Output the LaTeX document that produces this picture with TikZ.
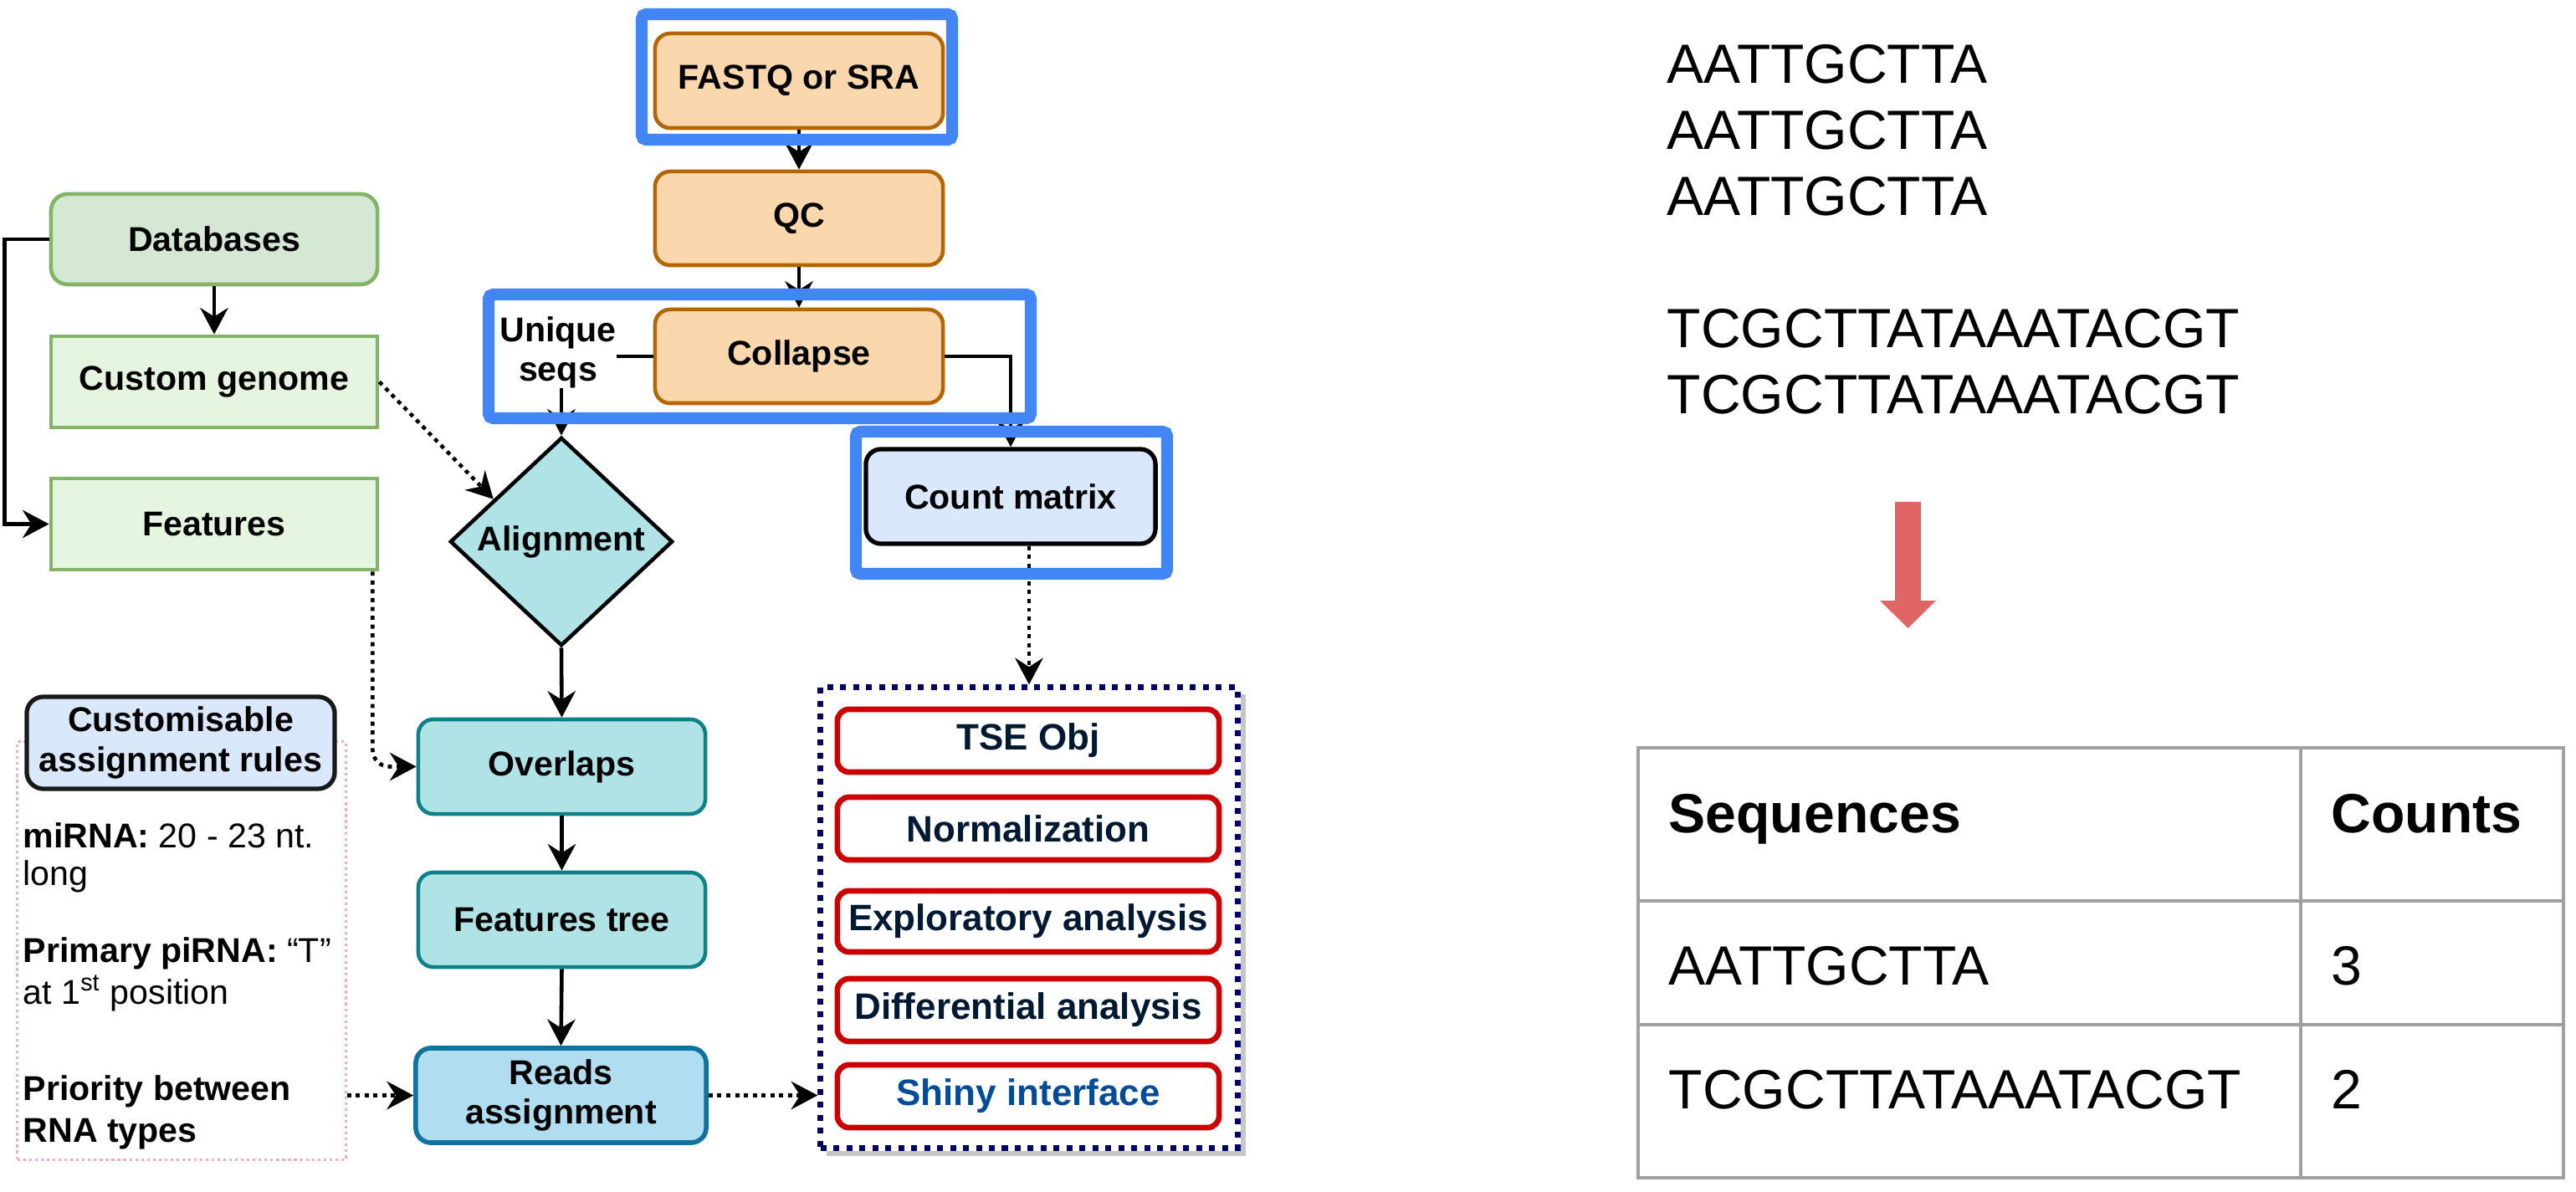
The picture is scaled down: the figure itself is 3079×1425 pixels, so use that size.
\documentclass[tikz,border=0pt]{standalone}
\usepackage{fontspec}
\setmainfont{Liberation Sans}
\usetikzlibrary{arrows.meta,shapes.geometric,calc}
\definecolor{orF}{HTML}{FAD7AC}
\definecolor{orS}{HTML}{B46504}
\definecolor{gnF}{HTML}{D5E8D4}
\definecolor{gnL}{HTML}{E6F5E0}
\definecolor{gnS}{HTML}{82B366}
\definecolor{tlF}{HTML}{B0E3E6}
\definecolor{tlS}{HTML}{0E8088}
\definecolor{rbF}{HTML}{B1DDF0}
\definecolor{rbS}{HTML}{10739E}
\definecolor{bxF}{HTML}{DAE8FC}
\definecolor{hiB}{HTML}{4285F4}
\definecolor{navyD}{HTML}{000066}
\definecolor{redS}{HTML}{CC0000}
\definecolor{txN}{HTML}{001933}
\definecolor{txB}{HTML}{004C99}
\definecolor{pinkD}{HTML}{F0B0C0}
\definecolor{tabG}{HTML}{A0A0A0}
\definecolor{arrR}{HTML}{E06666}
\newcommand\flowfont{\fontsize{11.7}{13.4}\selectfont\bfseries}
\newcommand\redfont{\fontsize{12.5}{14}\selectfont\bfseries}
\newcommand\pinkfont{\fontsize{11.7}{13.4}\selectfont}
\newcommand\seqfont{\fontsize{18.8}{22}\selectfont}
\begin{document}
\begin{tikzpicture}[x=0.01cm,y=-0.01cm,
  box/.style={font=\flowfont, align=center, inner sep=0pt, line width=1.3pt},
  obox/.style={box, draw=orS, fill=orF, rounded corners=0.18cm, minimum width=3.44cm, minimum height=1.12cm},
  gbox/.style={box, draw=gnS, fill=gnL, minimum width=3.9cm, minimum height=1.09cm},
  tbox/.style={box, draw=tlS, fill=tlF, rounded corners=0.18cm, minimum width=3.43cm, minimum height=1.13cm},
  rbox/.style={font=\redfont, text=txN, draw=redS, line width=1.9pt, fill=white, rounded corners=0.14cm, minimum width=4.56cm, minimum height=0.75cm, inner sep=0pt},
  arr/.style={line width=1.3pt, -{Stealth[length=9pt,width=9.5pt,inset=3pt]}},
  dotarr/.style={arr, dash pattern=on 1.4pt off 1.6pt},
  hilite/.style={draw=hiB, line width=4pt, rounded corners=1.5pt},
  seq/.style={font=\seqfont, anchor=base west, inner sep=0pt},
  pk/.style={font=\pinkfont, anchor=base west, inner sep=0pt}]
\useasboundingbox (0,0) rectangle (3079,1425);

% left column
\node[gbox, fill=gnF, rounded corners=0.2cm, minimum height=1.08cm] (db) at (256,286) {Databases};
\node[gbox] (cg) at (256,456.5) {Custom genome};
\node[gbox] (feat) at (256,626.5) {Features};

% main column
\node[obox, minimum height=1.13cm] (fq) at (955,96.5) {FASTQ or SRA};
\node[obox] (qc) at (955,261) {QC};
\node[obox] (col) at (955,426) {Collapse};
\node[box, draw=black, fill=tlF, shape=diamond, minimum width=2.66cm, minimum height=2.49cm] (al) at (671,647.5) {Alignment};
\node[tbox] (ov) at (671.5,916.5) {Overlaps};
\node[tbox] (ft) at (671.5,1099.5) {Features tree};
\node[tbox, draw=rbS, fill=rbF, line width=1.6pt, minimum width=3.47cm] (ra) at (670.5,1309.5) {Reads\\assignment};
\node[box, draw=black, fill=bxF, line width=1.5pt, rounded corners=0.18cm, minimum width=3.46cm, minimum height=1.13cm] (cm) at (1208,593.5) {Count matrix};

% analysis group
\draw[gray!45, line width=1.6pt] (988,1379) -- (1486,1379) -- (1486,830);
\node[draw=navyD, line width=2pt, dash pattern=on 2pt off 2.4pt, fill=white, minimum width=4.98cm, minimum height=5.5cm, inner sep=0pt] (dbx) at (1230,1097) {};
\node[rbox] (tse) at (1229,885.5) {TSE Obj};
\node[rbox] (nrm) at (1229,990.5) {Normalization};
\node[rbox, minimum height=0.73cm] (exa) at (1229,1101.5) {Exploratory analysis};
\node[rbox] (dfa) at (1229,1207.5) {Differential analysis};
\node[rbox, text=txB] (shi) at (1229,1310.5) {Shiny interface};

% rules
\node[draw=pinkD, line width=0.9pt, dash pattern=on 0.9pt off 1.1pt, minimum width=3.92cm, minimum height=4.99cm, inner sep=0pt] (pink) at (217,1136.5) {};
\node[box, draw=black!90, fill=bxF, line width=1.5pt, rounded corners=0.2cm, minimum width=3.68cm, minimum height=1.10cm] (cust) at (216,888) {Customisable\\assignment rules};
\node[pk] (t1) at (27,1013) {\textbf{miRNA:} 20 - 23 nt.};
\node[pk] (t2) at (27,1058) {long};
\node[pk] (t3) at (27,1150) {\textbf{Primary piRNA:} “T”};
\node[pk] (t4) at (27,1200) {at 1\textsuperscript{st} position};
\node[pk] (t5) at (27,1315) {\textbf{Priority between}};
\node[pk] (t6) at (27,1365) {\textbf{RNA types}};

% connectors
\draw[arr] (db.west) -- ++(-53,0) |- (feat.west);
\draw[arr] (db.south) -- (cg.north);
\draw[dotarr] (cg.east) -- ($(al.north)!0.6!(al.west)$);
\draw[dotarr, rounded corners=0.2cm] ([xshift=-0.08cm]feat.south east) |- (ov.west);
\draw[arr] (fq.south) -- (qc.north);
\draw[arr] (qc.south) -- (col.north);
\draw[arr] (col.west) -| (al.north);
\node[font=\flowfont, align=center, fill=white, inner sep=0pt] (us) at (667,421) {Unique\\seqs};
\draw[arr] (col.east) -| (cm.north);
\draw[arr] (al.south) -- (ov.north);
\draw[arr] (ov.south) -- (ft.north);
\draw[arr] (ft.south) -- (ra.north);
\draw[dotarr] (dbx.north |- cm.south) -- (dbx.north);
\draw[dotarr] (ra.west -| pink.east) -- (ra.west);
\draw[dotarr] (ra.east) -- (ra.east -| dbx.west);

% highlights
\draw[hilite] (767,17) rectangle (1138,167);
\draw[hilite] (584,352) rectangle (1232,500);
\draw[hilite] (1023,516) rectangle (1395,686);

% right side: reads
\node[seq] (a1) at (1992,99.5) {AATTGCTTA};
\node[seq] (a2) at (1992,178.6) {AATTGCTTA};
\node[seq] (a3) at (1992,257.7) {AATTGCTTA};
\node[seq] (b1) at (1992,415.8) {TCGCTTATAAATACGT};
\node[seq] (b2) at (1992,494.9) {TCGCTTATAAATACGT};

% red arrow
\fill[arrR] (2265,600) -- (2296,600) -- (2296,718) -- (2314,718) -- (2280.5,751) -- (2247,718) -- (2265,718) -- cycle;

% table
\draw[tabG, line width=1.1pt] (1958,894) rectangle (3064,1408);
\draw[tabG, line width=1.1pt] (1958,1077) -- (3064,1077);
\draw[tabG, line width=1.1pt] (1958,1225) -- (3064,1225);
\draw[tabG, line width=1.1pt] (2750,894) -- (2750,1408);
\node[seq, font=\seqfont\bfseries] (h1) at (1994,995) {Sequences};
\node[seq, font=\seqfont\bfseries] (h2) at (2786,995) {Counts};
\node[seq] (r1a) at (1994,1177) {AATTGCTTA};
\node[seq] (r1b) at (2786,1177) {3};
\node[seq] (r2a) at (1994,1325) {TCGCTTATAAATACGT};
\node[seq] (r2b) at (2786,1325) {2};
\end{tikzpicture}
\end{document}
